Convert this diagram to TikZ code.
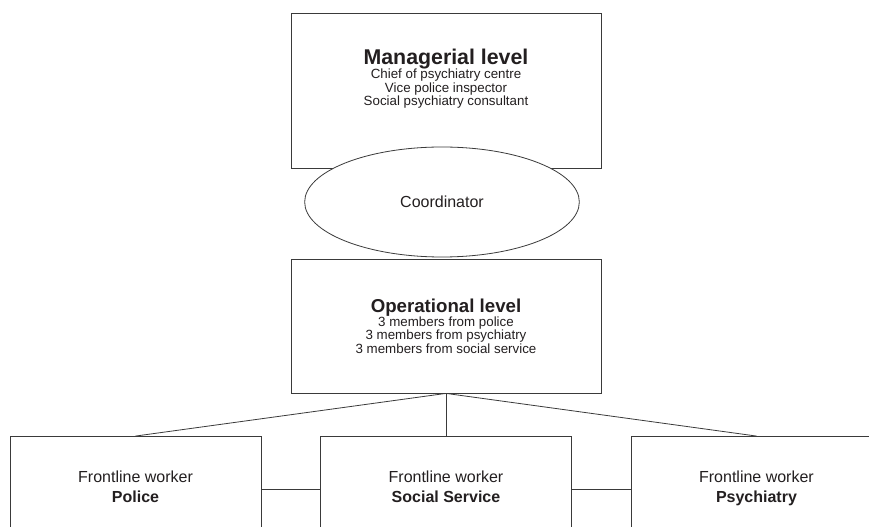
\documentclass[tikz,border=0pt]{standalone}
\usepackage{fontspec}
\setmainfont{Liberation Sans}
\usetikzlibrary{positioning, shapes.geometric}
\definecolor{teamline}{HTML}{3A3A3A}
\definecolor{teamtext}{HTML}{231F20}
\tikzset{
  levelbox/.style={draw=teamline, line width=0.6pt, fill=white, align=center,
                   text=teamtext, inner sep=0pt,
                   font=\fontsize{10}{10}\selectfont},
  workerbox/.style={levelbox, minimum width=188.25pt, minimum height=79.5pt,
                    font=\fontsize{12}{15}\selectfont,
                    execute at end node={\strut}},
  coordshape/.style={draw=teamline, line width=0.6pt, fill=white, ellipse,
                     minimum width=206pt, minimum height=82.5pt, inner sep=0pt,
                     text=teamtext, font=\fontsize{12}{14}\selectfont},
  link/.style={draw=teamline, line width=0.6pt},
}

\begin{document}
\begin{tikzpicture}[x=0.75pt, y=-0.75pt, node distance=33pt and 44pt]
  \useasboundingbox (0,0) rectangle (869,527);
  \clip (0,0) rectangle (869,527);
  % top level
  \node[levelbox, minimum width=232.5pt, minimum height=116.25pt] (mgr) at (446,90.5) {};
  \node[align=center, text=teamtext, inner sep=0pt, font=\fontsize{10}{10}\selectfont] (mgrtext) at (446,78.5)
    {{\fontsize{16}{16}\selectfont\bfseries Managerial level}\\[-0.5pt]
     Chief of psychiatry centre\\ Vice police inspector\\ Social psychiatry consultant};
  \node[coordshape] (coord) at (442,202) {Coordinator};
  % operational level
  \node[levelbox, minimum width=232.5pt, minimum height=100.5pt] (op) at (446,326)
    {{\fontsize{14}{14}\selectfont\bfseries Operational level}\\[-0.5pt]
     3 members from police\\ 3 members from psychiatry\\ 3 members from social service};
  % frontline workers
  \node[workerbox, below=32pt of op] (social) {Frontline worker\\ \textbf{Social Service}};
  \node[workerbox, left=of social] (police) {Frontline worker\\ \textbf{Police}};
  \node[workerbox, right=of social] (psych) {Frontline worker\\ \textbf{Psychiatry}};
  % connectors
  \draw[link] (op.south) -- (police.north);
  \draw[link] (op.south) -- (social.north);
  \draw[link] (op.south) -- (psych.north);
  \draw[link] (police.east) -- (social.west);
  \draw[link] (social.east) -- (psych.west);
\end{tikzpicture}
\end{document}
